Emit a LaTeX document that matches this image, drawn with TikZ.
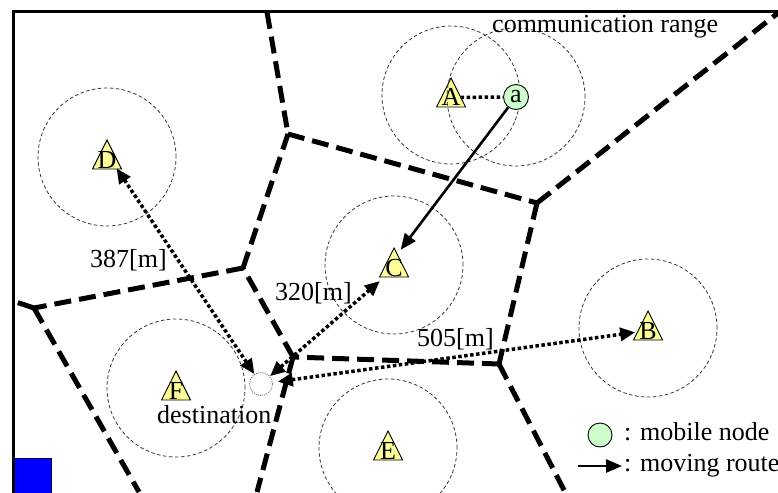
\documentclass[tikz,border=0pt]{standalone}
\usepackage{fontspec}
\setmainfont{Liberation Serif}
\usetikzlibrary{arrows.meta}
\definecolor{mobilegreen}{RGB}{204,255,204}
\definecolor{stationyellow}{RGB}{255,255,153}
\tikzset{
  cell/.style={line width=5pt, dash pattern=on 17pt off 8pt},
  commrange/.style={black!80, line width=0.8pt, dash pattern=on 3.5pt off 2.5pt},
  station/.style={fill=stationyellow, draw=black, line width=0.9pt, line join=miter},
  mobile/.style={circle, draw=black, line width=0.9pt, fill=mobilegreen, minimum size=25pt, inner sep=0pt},
  dotline/.style={line width=3.5pt, dash pattern=on 3.5pt off 2.5pt},
  dist/.style={dotline, {Triangle[length=15pt,width=13pt]}-{Triangle[length=15pt,width=13pt]}},
  route/.style={line width=2.6pt, -{Triangle[length=16pt,width=13pt]}},
  target/.style={circle, draw=black!55, line width=0.9pt, dash pattern=on 1pt off 1.2pt, minimum size=23pt, inner sep=0pt}
}

\begin{document}
\begin{tikzpicture}[x=1pt, y=-1pt, font=\fontsize{26}{31}\selectfont, inner sep=0pt]
\useasboundingbox (0,0) rectangle (778,492);
\fill[blue, draw=blue!40!black, line width=0.8pt] (13,458) rectangle (51,493);
\draw[line width=3pt] (13,493) -- (13,12) -- (779,12);
\coordinate (t1) at (267,12);
\coordinate (t2) at (778,13);
\coordinate (l1) at (13,301);
\coordinate (b1) at (565,492);
\coordinate (b2) at (257,492);
\coordinate (b3) at (139,492);
\coordinate (v1) at (288,134);
\coordinate (v2) at (537,203);
\coordinate (v3) at (499,364);
\coordinate (v4) at (293,357);
\coordinate (v5) at (243,268);
\coordinate (v6) at (34,308);
\foreach \s/\px/\py in {A/451/107, B/648/340, C/394/277, D/107/169, E/388/460, F/176/400}{
  \draw[commrange] (\px,\py-12) circle (69pt);
  \filldraw[station] (\px-14.5,\py) -- (\px+14.5,\py) -- (\px,\py-29) -- cycle;
  \node[anchor=base] (\s) at (\px,\py-1) {\s};
}
\node[mobile] (a) at (516,97) {a};
\draw[commrange] (a) circle (69pt);
\foreach \p/\q in {t1/v1, v1/v2, v2/t2, v2/v3, v3/v4, v3/b1, v4/v5, v4/b2, v5/v1, v5/v6, v6/l1, v6/b3}
  \draw[cell] (\p) -- (\q);
\node[target] (dest) at (261,384) {};
\draw[dotline] (A) -- (a);
\draw[route, shorten >=11pt] (a) -- (C.north);
\draw[dist] (dest) -- (D.south east);
\draw[dist, shorten >=7pt] (dest) -- (C.south west);
\draw[dist, shorten <=5pt, shorten >=4pt] (dest) -- (B);
\node[anchor=base west] (d387) at (90,267) {387[m]};
\node[anchor=base west] (d320) at (275,300) {320[m]};
\node[anchor=base west] (d505) at (417,346) {505[m]};
\node[anchor=base west] (rangelbl) at (492,33) {communication range};
\node[anchor=base west] (destlbl) at (157,423) {destination};
\node[mobile, minimum size=24pt] (legmobile) at (600,435) {};
\node[anchor=base west] (legmobiletext) at (624,440) {: mobile node};
\coordinate (legs) at (578,466);
\coordinate (lege) at (622,466);
\draw[route] (legs) -- (lege);
\node[anchor=base west] (legroutetext) at (624,471) {: moving route};
\end{tikzpicture}
\end{document}
